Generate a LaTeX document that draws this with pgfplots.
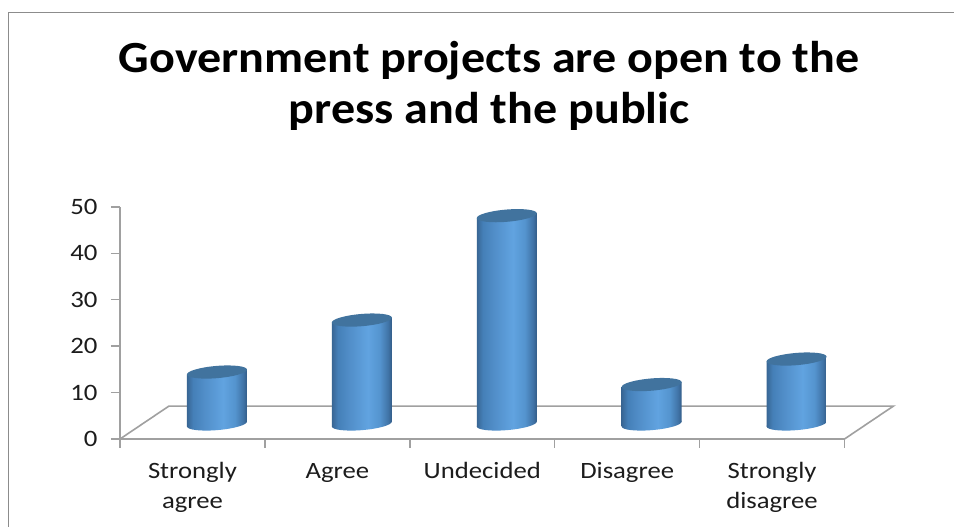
\documentclass[border=0pt]{standalone}
\usepackage{pgfplots}
\pgfplotsset{compat=1.18}
\usepackage{fontspec}
\setmainfont[FakeStretch=1.14]{Carlito}
\newfontfamily\titlefont[FakeStretch=1.08]{Carlito}

\definecolor{framegray}{HTML}{8C8C8C}
\definecolor{axisgray}{HTML}{A0A0A0}
\definecolor{cyltop}{HTML}{41739E}
\definecolor{labeltext}{HTML}{1C1C1C}

% Horizontal lighting across a cylinder body
\pgfdeclarehorizontalshading{cylbody}{100bp}{
  rgb(0bp)=(0.22,0.40,0.58);
  rgb(25bp)=(0.22,0.40,0.58);
  rgb(30bp)=(0.27,0.50,0.72);
  rgb(40bp)=(0.32,0.56,0.79);
  rgb(55bp)=(0.38,0.64,0.88);
  rgb(65bp)=(0.33,0.58,0.81);
  rgb(72bp)=(0.25,0.45,0.65);
  rgb(75bp)=(0.20,0.36,0.53);
  rgb(100bp)=(0.20,0.36,0.53)}

% A cylinder hanging from its top centre; \cylh is the value of the point
\pgfdeclareplotmark{cylinder}{%
  \pgfmathsetlengthmacro\cylheight{\cylh*4.64pt}%
  \pgfpathellipse{\pgfqpoint{0pt}{-\cylheight}}{\pgfqpoint{30pt}{2.5pt}}{\pgfqpoint{-0.5pt}{6.1pt}}%
  \pgfshadepath{cylbody}{0}%
  \pgfusepath{discard}%
  \pgfpathmoveto{\pgfqpoint{-30pt}{-2.5pt}}%
  \pgfpathlineto{\pgfqpoint{30pt}{2.5pt}}%
  \pgfpathlineto{\pgfpoint{30pt}{2.5pt-\cylheight}}%
  \pgfpathlineto{\pgfpoint{-30pt}{-2.5pt-\cylheight}}%
  \pgfpathclose
  \pgfshadepath{cylbody}{0}%
  \pgfusepath{discard}%
  \pgfsetfillcolor{cyltop}%
  \pgfpathellipse{\pgfpointorigin}{\pgfqpoint{30pt}{2.5pt}}{\pgfqpoint{-0.5pt}{6.1pt}}%
  \pgfusepath{fill}%
}

% Keeps the first line of every category label on one baseline
\newcommand{\lblstrut}{\rule{0pt}{17pt}}

\begin{document}
\begin{tikzpicture}[x=1pt,y=1pt]
  \path[use as bounding box,fill=white] (0,0) rectangle (954,527);
  % Chart frame: only its top and left edges are in view
  \draw[framegray,line width=1pt] (8.5,0) -- (8.5,514) -- (954,514);

  % Axes, floor and category labels
  \begin{axis}[
    at={(120pt,88pt)},anchor=south west,
    scale only axis,width=724.5pt,height=232pt,
    xmin=0,xmax=5,ymin=0,ymax=50,
    clip=false,
    axis x line*=bottom,axis y line*=left,
    axis line style={axisgray,line width=1.6pt,-},
    xtick={0,1,2,3,4,5},xticklabels={},
    ytick={0,10,20,30,40,50},
    tick align=outside,major tick length=9pt,
    tick style={axisgray,line width=1.4pt},
    /pgf/number format/assume math mode=true,
    ticklabel style={font=\fontsize{23.5}{30}\selectfont,text=labeltext},
    yticklabel style={xshift=-10pt},
    extra x ticks={0.5,1.5,2.5,3.5,4.5},
    extra x tick labels={\lblstrut Strongly\\agree,\lblstrut Agree,\lblstrut Undecided,\lblstrut Disagree,\lblstrut Strongly\\disagree},
    extra x tick style={major tick length=0pt,
      tick label style={align=center,anchor=north,yshift=-19pt,
        font=\fontsize{23.4}{30}\selectfont,text=labeltext}},
    title={Government projects are open to the\\press and the public},
    title style={align=center,anchor=south,at={(0.5,1)},xshift=7pt,yshift=67pt,
      font=\fontsize{44.5}{51}\selectfont\titlefont\bfseries,text=black},
  ]
    \addplot[axisgray,line width=1.6pt,mark=none]
      coordinates {(0,0) (0.338,7.1) (5.338,7.1) (5,0)};
  \end{axis}

  % Cylinders stand mid-way across the floor's depth
  \begin{axis}[
    at={(144.5pt,103pt)},anchor=south west,
    scale only axis,width=724.5pt,height=232pt,
    xmin=0,xmax=5,ymin=0,ymax=50,
    clip=false,hide axis,
  ]
    \addplot[only marks,mark=cylinder,scatter,scatter src=y,
      visualization depends on={rawy \as \cylh}]
      coordinates {(0.5,11.2) (1.5,22.4) (2.5,44.9) (3.5,8.5) (4.5,14)};
  \end{axis}
\end{tikzpicture}
\end{document}
